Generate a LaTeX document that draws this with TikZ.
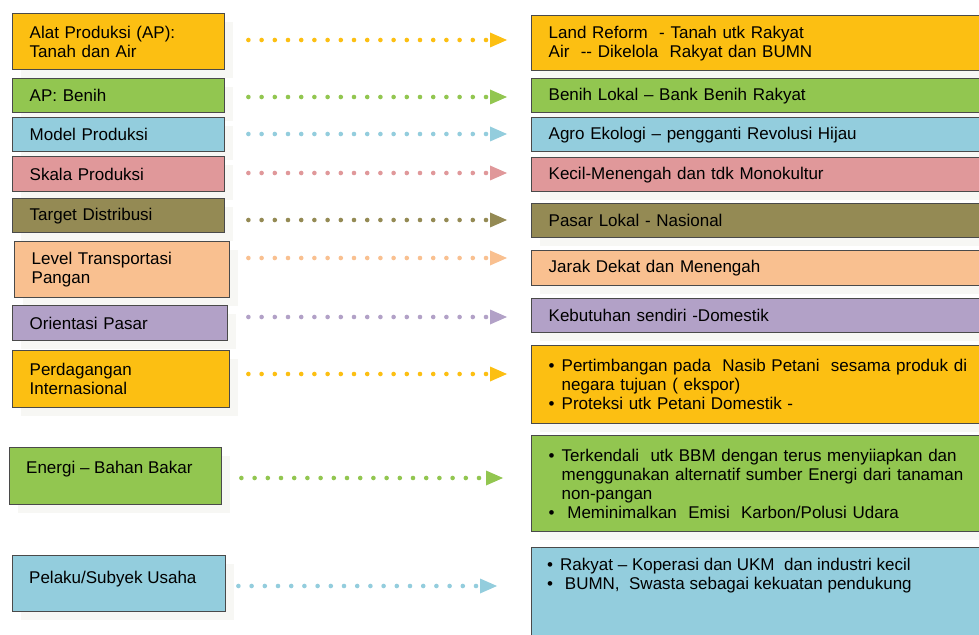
\documentclass[tikz,border=0pt]{standalone}
\usepackage{fontspec}
\setmainfont{Liberation Sans}
\usetikzlibrary{arrows.meta,shadows,calc}
\definecolor{cyel}{HTML}{FCBF12}
\definecolor{cgrn}{HTML}{92C650}
\definecolor{cblu}{HTML}{93CDDD}
\definecolor{cpnk}{HTML}{E0989A}
\definecolor{coli}{HTML}{948A54}
\definecolor{cpch}{HTML}{F9C090}
\definecolor{cpur}{HTML}{B2A1C7}
\definecolor{boxline}{HTML}{4A4A4A}
\definecolor{shadowc}{HTML}{F7F7F4}
\newcommand{\bul}{\makebox[13bp][l]{\textbullet}}
\begin{document}
\begin{tikzpicture}[x=1bp,y=-1bp,
  txt/.style={font=\fontsize{17bp}{19bp}\selectfont, text=black, align=left},
  box/.style={txt, draw=boxline, line width=1.4bp, rectangle, anchor=north west,
    inner xsep=17bp, inner ysep=0bp,
    general shadow={fill=shadowc, shadow xshift=8bp, shadow yshift=-8bp}},
  freetext/.style={txt, inner sep=0bp, anchor=base west},
  arr/.style={draw=#1, line width=4.6bp, line cap=round, dash pattern=on 0bp off 13.2bp,
    -{Triangle[length=17bp,width=15bp,line width=0bp,fill=#1]}}
]
\useasboundingbox (0,0) rectangle (979,635);
\clip (0,0) rectangle (979,635);
\fill[white] (0,0) rectangle (979,635);

% left column
\node[box, fill=cyel, minimum width=212bp, text width=178bp, minimum height=56bp] (l1) at (12,13) {Alat Produksi (AP):\\Tanah dan Air};
\node[box, fill=cgrn, minimum width=212bp, text width=178bp, minimum height=34bp] (l2) at (12,78) {AP: Benih};
\node[box, fill=cblu, minimum width=212bp, text width=178bp, minimum height=34bp] (l3) at (12,117) {Model Produksi};
\node[box, fill=cpnk, minimum width=212bp, text width=178bp, minimum height=35bp] (l4) at (12,156) {Skala Produksi};
\node[box, fill=coli, minimum width=212bp, text width=178bp, minimum height=34bp] (l5) at (12,198) {Target Distribusi};
\node[box, fill=cpch, minimum width=215bp, text width=181bp, minimum height=56bp] (l6) at (14,241) {Level Transportasi\\Pangan};
\node[box, fill=cpur, minimum width=215bp, text width=181bp, minimum height=35bp] (l7) at (12,305) {Orientasi Pasar};
\node[box, fill=cyel, minimum width=217bp, text width=183bp, minimum height=57bp] (l8) at (12,350) {Perdagangan\\Internasional};
\node[box, fill=cgrn, minimum width=212bp, text width=178bp, minimum height=57bp] (l9) at (9,447) {};
\node[freetext] (l9t) at (26,473) {Energi -- Bahan Bakar};
\node[box, fill=cblu, minimum width=213bp, text width=179bp, minimum height=56bp] (l10) at (12,555) {};
\node[freetext] (l10t) at (29,583) {Pelaku/Subyek Usaha};

% right column
\node[box, fill=cyel, minimum width=470bp, text width=436bp, minimum height=55bp] (r1) at (531,15) {Land Reform\ \ - Tanah utk\ Rakyat\\Air\ \ {-}{-} Dikelola\ \ Rakyat dan BUMN};
\node[box, fill=cgrn, minimum width=470bp, text width=436bp, minimum height=34bp] (r2) at (531,78) {Benih Lokal -- Bank Benih Rakyat};
\node[box, fill=cblu, minimum width=470bp, text width=436bp, minimum height=34bp] (r3) at (531,117) {Agro Ekologi -- pengganti Revolusi Hijau};
\node[box, fill=cpnk, minimum width=470bp, text width=436bp, minimum height=34bp] (r4) at (531,157) {Kecil-Menengah dan tdk Monokultur};
\node[box, fill=coli, minimum width=470bp, text width=436bp, minimum height=34bp] (r5) at (531,203) {Pasar Lokal - Nasional};
\node[box, fill=cpch, minimum width=470bp, text width=436bp, minimum height=35bp] (r6) at (531,250) {Jarak Dekat dan Menengah};
\node[box, fill=cpur, minimum width=470bp, text width=436bp, minimum height=34bp] (r7) at (531,298) {Kebutuhan sendiri -Domestik};
\node[box, fill=cyel, minimum width=470bp, text width=436bp, minimum height=78bp] (r8) at (531,345) {\bul Pertimbangan pada\ \ Nasib Petani\ \ sesama produk di\\\hspace*{13bp}negara tujuan ( ekspor)\\\bul Proteksi utk Petani Domestik -};
\node[box, fill=cgrn, minimum width=470bp, text width=436bp, minimum height=96bp] (r9) at (531,435) {\bul Terkendali\ \ utk BBM dengan terus menyiiapkan dan\\\hspace*{13bp}menggunakan\ alternatif sumber Energi dari tanaman\\\hspace*{13bp}non-pangan\\\bul\ Meminimalkan\ \ Emisi\ \ Karbon/Polusi Udara};
\node[box, fill=cblu, minimum width=470bp, text width=436bp, minimum height=98bp] (r10) at (531,547) {};
\node[freetext] (r10t) at (547,589) {\bul Rakyat -- Koperasi dan UKM\ \ dan industri kecil\\\bul\ BUMN,\ \ Swasta sebagai kekuatan pendukung};

% arrow heights
\coordinate (y1) at (0,40);
\coordinate (y2) at (0,97);
\coordinate (y3) at (0,134);
\coordinate (y4) at (0,173);
\coordinate (y5) at (0,220);
\coordinate (y6) at (0,258);
\coordinate (y7) at (0,317);
\coordinate (y8) at (0,374);
\coordinate (y9) at (0,478);
\coordinate (y10) at (0,586);

\draw[arr=cyel] ($(l1.east |- y1)+(23,0)$) -- ($(r1.west |- y1)+(-24,0)$);
\draw[arr=cgrn] ($(l2.east |- y2)+(23,0)$) -- ($(r2.west |- y2)+(-24,0)$);
\draw[arr=cblu] ($(l3.east |- y3)+(23,0)$) -- ($(r3.west |- y3)+(-24,0)$);
\draw[arr=cpnk] ($(l4.east |- y4)+(23,0)$) -- ($(r4.west |- y4)+(-24,0)$);
\draw[arr=coli] ($(l5.east |- y5)+(23,0)$) -- ($(r5.west |- y5)+(-24,0)$);
\draw[arr=cpch] ($(l6.east |- y6)+(18,0)$) -- ($(r6.west |- y6)+(-24,0)$);
\draw[arr=cpur] ($(l7.east |- y7)+(20,0)$) -- ($(r7.west |- y7)+(-24,0)$);
\draw[arr=cyel] ($(l8.east |- y8)+(18,0)$) -- ($(r8.west |- y8)+(-24,0)$);
\draw[arr=cgrn] ($(l9.east |- y9)+(19,0)$) -- ($(r9.west |- y9)+(-28,0)$);
\draw[arr=cblu] ($(l10.east |- y10)+(12,0)$) -- ($(r10.west |- y10)+(-34,0)$);
\end{tikzpicture}
\end{document}
